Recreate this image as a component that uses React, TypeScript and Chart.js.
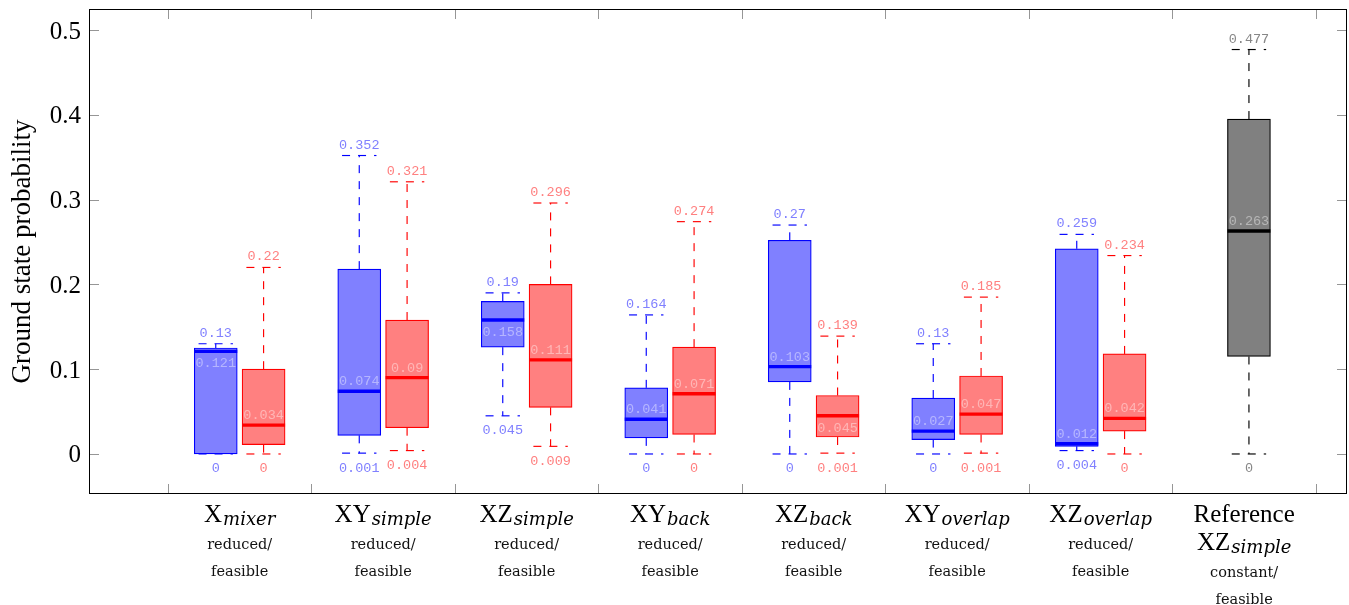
import React, { useEffect, useRef } from 'react';
import { Chart, registerables } from 'chart.js';

Chart.register(...registerables);

// ---------- data ----------
const mainLabels = ['X', 'XY', 'XZ', 'XY', 'XZ', 'XY', 'XZ', 'XZ'];
const subLabels = ['mixer', 'simple', 'simple', 'back', 'back', 'overlap', 'overlap', 'simple'];
const preLabels = ['', '', '', '', '', '', '', 'Reference'];
const noteLine1 = ['reduced/', 'reduced/', 'reduced/', 'reduced/', 'reduced/', 'reduced/', 'reduced/', 'constant/'];
const noteLine2 = ['feasible', 'feasible', 'feasible', 'feasible', 'feasible', 'feasible', 'feasible', 'feasible'];
const groupCenters = [1.5, 4.5, 7.5, 10.5, 13.5, 16.5, 19.5, 22.5];
const groupBoundaries = [0, 3, 6, 9, 12, 15, 18, 21, 24];
const yTicks = [0, 0.1, 0.2, 0.3, 0.4, 0.5];
const yTickLabels = ['0', '0.1', '0.2', '0.3', '0.4', '0.5'];

// reduced (blue)
const bluePos = [1, 4, 7, 10, 13, 16, 19];
const blueMin = [0, 0.001, 0.045, 0, 0, 0, 0.004];
const blueQ1 = [0, 0.022, 0.126, 0.019, 0.085, 0.017, 0.009];
const blueMed = [0.121, 0.074, 0.158, 0.041, 0.103, 0.027, 0.012];
const blueQ3 = [0.125, 0.218, 0.18, 0.078, 0.252, 0.066, 0.242];
const blueMax = [0.13, 0.352, 0.19, 0.164, 0.27, 0.13, 0.259];

// feasible (red)
const redPos = [2, 5, 8, 11, 14, 17, 20];
const redMin = [0, 0.004, 0.009, 0, 0.001, 0.001, 0];
const redQ1 = [0.011, 0.031, 0.055, 0.023, 0.02, 0.023, 0.027];
const redMed = [0.034, 0.09, 0.111, 0.071, 0.045, 0.047, 0.042];
const redQ3 = [0.1, 0.158, 0.2, 0.126, 0.069, 0.092, 0.118];
const redMax = [0.22, 0.321, 0.296, 0.274, 0.139, 0.185, 0.234];

// reference (gray)
const refPos = [22.6];
const refMin = [0];
const refQ1 = [0.115];
const refMed = [0.263];
const refQ3 = [0.395];
const refMax = [0.477];

// ---------- styles ----------
const styles = [
  { fill: 'rgb(128,128,255)', line: 'rgb(0,0,255)', label: 'rgb(128,128,255)' },
  { fill: 'rgb(255,128,128)', line: 'rgb(255,0,0)', label: 'rgb(255,128,128)' },
  { fill: 'rgb(128,128,128)', line: 'rgb(0,0,0)', label: 'rgb(135,135,135)' },
];

const seriesList = [
  { pos: bluePos, min: blueMin, q1: blueQ1, med: blueMed, q3: blueQ3, max: blueMax },
  { pos: redPos, min: redMin, q1: redQ1, med: redMed, q3: redQ3, max: redMax },
  { pos: refPos, min: refMin, q1: refQ1, med: refMed, q3: refQ3, max: refMax },
];

const SERIF = '"Liberation Serif", "Times New Roman", serif';
const SMALL = '"DejaVu Serif", serif';
const MONO = '"Liberation Mono", monospace';

const decor = {
  id: 'boxDecor',
  afterDatasetsDraw(chart: any) {
    const { ctx, chartArea: a, scales } = chart;
    const xs = scales.x;
    const ys = scales.y;
    const capHalf = 17.2;
    const boxHalf = 21.5;

    ctx.save();
    ctx.beginPath();
    ctx.rect(a.left, a.top, a.right - a.left, a.bottom - a.top);
    ctx.clip();

    seriesList.forEach((s, si) => {
      const st = styles[si];
      s.pos.forEach((p: number, i: number) => {
        const cx = xs.getPixelForValue(p);
        const yMin = ys.getPixelForValue(s.min[i]);
        const yQ1 = ys.getPixelForValue(s.q1[i]);
        const yMed = ys.getPixelForValue(s.med[i]);
        const yQ3 = ys.getPixelForValue(s.q3[i]);
        const yMax = ys.getPixelForValue(s.max[i]);

        // whiskers
        ctx.strokeStyle = st.line;
        ctx.lineWidth = 1.15;
        ctx.setLineDash([8, 8]);
        ctx.lineDashOffset = 0;
        ctx.beginPath();
        ctx.moveTo(cx, yQ3);
        ctx.lineTo(cx, yMax);
        ctx.stroke();
        ctx.beginPath();
        ctx.moveTo(cx - capHalf, yMax);
        ctx.lineTo(cx + capHalf, yMax);
        ctx.stroke();
        ctx.beginPath();
        ctx.moveTo(cx, yQ1);
        ctx.lineTo(cx, yMin);
        ctx.stroke();
        ctx.beginPath();
        ctx.moveTo(cx - capHalf, yMin);
        ctx.lineTo(cx + capHalf, yMin);
        ctx.stroke();
        ctx.setLineDash([]);

        // median
        ctx.strokeStyle = st.line;
        ctx.lineWidth = 3.4;
        ctx.beginPath();
        ctx.moveTo(cx - boxHalf, yMed);
        ctx.lineTo(cx + boxHalf, yMed);
        ctx.stroke();

        // labels
        ctx.font = `13.5px ${MONO}`;
        ctx.textAlign = 'center';
        ctx.textBaseline = 'alphabetic';
        ctx.fillStyle = st.label;
        ctx.fillText(String(s.max[i]), cx, yMax - 7);
        ctx.fillText(String(s.min[i]), cx, yMin + 18.5);
        ctx.fillStyle = 'rgba(255,255,255,0.42)';
        const below = s.q3[i] - s.med[i] < 0.03;
        ctx.fillText(String(s.med[i]), cx, below ? yMed + 16 : yMed - 6);
      });
    });
    ctx.restore();
  },
  afterDraw(chart: any) {
    const { ctx, chartArea: a, scales } = chart;
    const xs = scales.x;
    const ys = scales.y;
    ctx.save();
    // ticks
    ctx.strokeStyle = 'rgb(150,150,150)';
    ctx.lineWidth = 1;
    const tl = 10;
    yTicks.forEach((v) => {
      const y = Math.round(ys.getPixelForValue(v)) + 0.5;
      ctx.beginPath();
      ctx.moveTo(a.left, y);
      ctx.lineTo(a.left + tl, y);
      ctx.moveTo(a.right, y);
      ctx.lineTo(a.right - tl, y);
      ctx.stroke();
    });
    groupBoundaries.forEach((v) => {
      const x = Math.round(xs.getPixelForValue(v)) + 0.5;
      ctx.beginPath();
      ctx.moveTo(x, a.top);
      ctx.lineTo(x, a.top + tl);
      ctx.moveTo(x, a.bottom);
      ctx.lineTo(x, a.bottom - tl);
      ctx.stroke();
    });
    // frame
    ctx.strokeStyle = '#000';
    ctx.lineWidth = 1;
    ctx.strokeRect(Math.round(a.left) + 0.5, Math.round(a.top) + 0.5, Math.round(a.right - a.left) - 1, Math.round(a.bottom - a.top) - 1);

    // y tick labels
    ctx.fillStyle = '#000';
    ctx.font = `25px ${SERIF}`;
    ctx.textAlign = 'right';
    ctx.textBaseline = 'alphabetic';
    yTicks.forEach((v, i) => {
      const y = ys.getPixelForValue(v);
      ctx.fillText(yTickLabels[i], a.left - 8, y + 8.5);
    });

    // y title
    ctx.save();
    ctx.translate(30, (a.top + a.bottom) / 2);
    ctx.rotate(-Math.PI / 2);
    ctx.textAlign = 'center';
    ctx.font = `27px ${SERIF}`;
    ctx.fillText('Ground state probability', 0, 0);
    ctx.restore();

    // x labels
    const drawMain = (main: string, sub: string, cx: number, base: number) => {
      ctx.font = `25px ${SERIF}`;
      const w1 = ctx.measureText(main).width;
      ctx.font = `italic 18px ${SMALL}`;
      const w2 = ctx.measureText(sub).width;
      const gap = 1;
      const x0 = cx - (w1 + gap + w2) / 2;
      ctx.textAlign = 'left';
      ctx.font = `25px ${SERIF}`;
      ctx.fillText(main, x0, base);
      ctx.font = `italic 18px ${SMALL}`;
      ctx.fillText(sub, x0 + w1 + gap, base + 3);
    };
    groupCenters.forEach((g, i) => {
      const cx = xs.getPixelForValue(g);
      ctx.fillStyle = '#000';
      let base = a.bottom + 28;
      if (preLabels[i]) {
        ctx.font = `25px ${SERIF}`;
        ctx.textAlign = 'center';
        ctx.fillText(preLabels[i], cx, a.bottom + 27.5);
        base = a.bottom + 56;
      }
      drawMain(mainLabels[i], subLabels[i], cx, base);
      ctx.font = `14.5px ${SMALL}`;
      ctx.textAlign = 'center';
      ctx.fillStyle = '#111';
      ctx.fillText(noteLine1[i], cx, base + 27);
      ctx.fillText(noteLine2[i], cx, base + 54);
    });
    ctx.restore();
  },
};

export default function App() {
  const ref = useRef<HTMLCanvasElement | null>(null);
  useEffect(() => {
    if (!ref.current) return;
    const datasets = seriesList.map((s, si) => ({
      label: ['reduced', 'feasible', 'reference'][si],
      data: s.pos.map((p: number, i: number) => ({ x: p, y: [s.q1[i], s.q3[i]] })),
      backgroundColor: styles[si].fill,
      borderColor: styles[si].line,
      borderWidth: 1.2,
      borderSkipped: false as any,
      barThickness: 43,
      grouped: false,
    }));
    const chart = new Chart(ref.current, {
      type: 'bar',
      data: { datasets: datasets as any },
      options: {
        animation: false,
        responsive: false,
        events: [],
        layout: { padding: { left: 89, top: 9, right: 2, bottom: 111 } },
        plugins: { legend: { display: false }, tooltip: { enabled: false } },
        scales: {
          x: { type: 'linear', min: -1.65, max: 24.65, offset: false, display: false },
          y: { type: 'linear', min: -0.0472, max: 0.5248, display: false },
        },
      },
      plugins: [decor],
    });
    return () => chart.destroy();
  }, []);
  return (
    <div style={{ position: 'absolute', left: 0, top: 0, width: 1349, height: 605, background: '#fff' }}>
      <canvas ref={ref} width={1349} height={605} style={{ display: 'block' }} />
    </div>
  );
}
